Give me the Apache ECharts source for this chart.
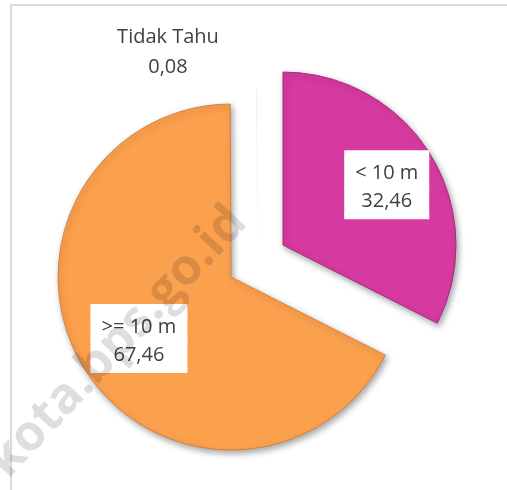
<!DOCTYPE html>
<html>
<head>
<meta charset="utf-8">
<script src="https://cdn.jsdelivr.net/npm/echarts@6/dist/echarts.min.js"></script>
<style>html,body{margin:0;padding:0;background:#fff;}#c{width:507px;height:490px;}</style>
</head>
<body>
<div id="c"></div>
<script>
const categories = ['< 10 m', '>= 10 m', 'Tidak Tahu'];
const values = [32.46, 67.46, 0.08];
const valueLabels = ['32,46', '67,46', '0,08'];
const colors = ['#D63AA0', '#FBA04D', '#EEEEEE'];
const exploded = [true, true, false];

const chart = echarts.init(document.getElementById('c'), null, {renderer: 'canvas'});

// label box widths and transparent shift padding (top, right, bottom, left)
const boxWidth = [83, 95];
const shiftPad = [[0, 0, 27, 55], [29, 32, 0, 0]];
const borderColors = ['#A82C7E', '#D3843F', '#EEEEEE'];
const textBase = {color: '#404040', fontFamily: '"Open Sans", sans-serif', fontSize: 20};

function boxRich(w) {
  const box = {width: w, backgroundColor: '#ffffff', borderColor: '#ffffff', borderWidth: 1, align: 'center'};
  return {
    s1: Object.assign({}, box, {height: 8, lineHeight: 8, fontSize: 4}),
    t: Object.assign({}, box, textBase, {height: 28, lineHeight: 28}),
    s2: Object.assign({}, box, {height: 3, lineHeight: 3, fontSize: 2})
  };
}

const data = categories.map((c, i) => ({
  name: c,
  value: values[i],
  selected: exploded[i],
  itemStyle: {
    color: colors[i],
    borderColor: borderColors[i],
    borderWidth: i < 2 ? 1 : 0,
    shadowBlur: i < 2 ? 6 : 4,
    shadowColor: i < 2 ? 'rgba(0,0,0,0.35)' : 'rgba(0,0,0,0.08)'
  },
  label: i < 2 ? {
    position: 'inside',
    padding: shiftPad[i],
    formatter: p => '{s1| }\n{t|' + p.name + '}\n{t|' + valueLabels[p.dataIndex] + '}\n{s2| }',
    rich: boxRich(boxWidth[i])
  } : {
    position: 'inside',
    lineHeight: 30,
    formatter: p => p.name + '\n' + valueLabels[p.dataIndex]
  }
}));

chart.setOption({
  animation: false,
  backgroundColor: '#ffffff',
  graphic: [
    {
      type: 'rect', z: -10,
      shape: {x: 11, y: 5, width: 520, height: 500},
      style: {fill: '#ffffff', stroke: '#D9D9D9', lineWidth: 2}
    },
    {
      type: 'text', z: 100, x: 118, y: 342, rotation: Math.PI / 4 + 0.03,
      style: {
        text: 'kota.bps.go.id', x: 0, y: 0, align: 'center', verticalAlign: 'middle',
        font: 'bold 50px "Open Sans"', fill: 'rgba(0,0,0,0.13)'
      },
      silent: true
    }
  ],
  series: [{
    type: 'pie',
    center: [257, 261],
    radius: [0, 173],
    startAngle: 90,
    clockwise: true,
    selectedMode: 'multiple',
    selectedOffset: 30.5,
    minAngle: 0,
    avoidLabelOverlap: false,
    emphasis: {disabled: true},
    itemStyle: {
      shadowOffsetX: 2,
      shadowOffsetY: 3
    },
    label: Object.assign({show: true, align: 'center'}, textBase),
    labelLine: {show: false},
    labelLayout: p => (p.dataIndex === 2 ? {x: 168, y: 52, align: 'center', verticalAlign: 'middle'} : {}),
    data: data
  }]
});
</script>
</body>
</html>
